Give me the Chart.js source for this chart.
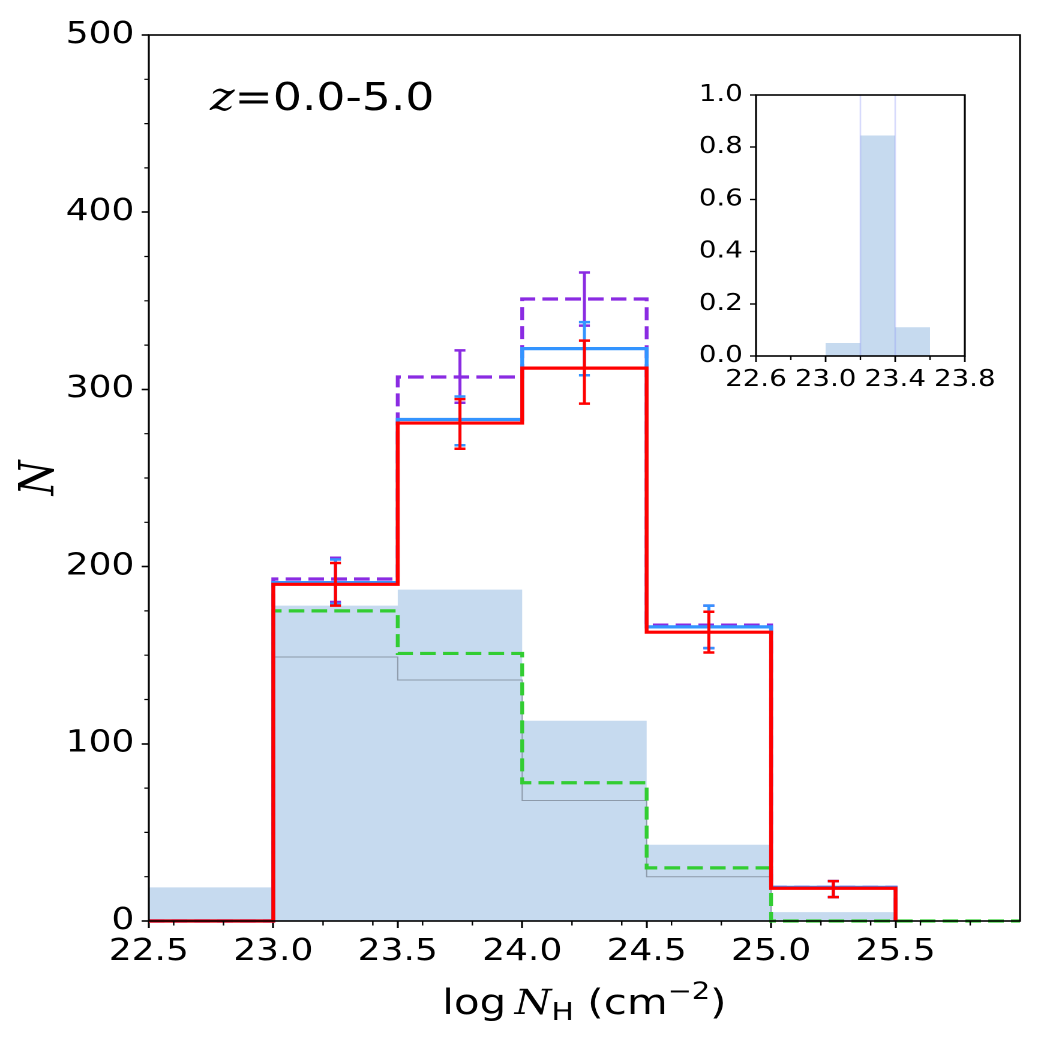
<!DOCTYPE html>
<html>
<head>
<meta charset="utf-8">
<script src="https://cdn.jsdelivr.net/npm/chart.js@4.4.1/dist/chart.umd.min.js"></script>
<style>
html, body { margin: 0; padding: 0; background: #fff; }
#wrap { position: relative; width: 1050px; height: 1050px; overflow: hidden; }
.layer { position: absolute; left: 0; top: 0; width: 875px; height: 1050px; transform: scaleX(1.2); transform-origin: 0 0; }
</style>
</head>
<body>
<div id="wrap">
  <div class="layer"><canvas id="main"></canvas></div>
  <div class="layer"><canvas id="inset"></canvas></div>
</div>
<script>
// bins in log NH
var binEdges = [22.5, 23.0, 23.5, 24.0, 24.5, 25.0, 25.5, 26.0];
var sampleCounts = [19, 178, 187, 113, 43, 5, 0];
var greyCounts = [null, 149, 136, 68, 25, null, null];
var greenCounts = [null, 175, 151, 78, 30, 0, 0];
var purpleCounts = [0, 193, 307, 351, 167, 19, null];
var blueCounts = [0, 191, 283, 323, 166, 19, null];
var redCounts = [0, 190, 281, 312, 163, 18.5, null];

// error bars at bin centres
var errCenters = [23.25, 23.75, 24.25, 24.75, 25.25];
var purpleLow = [180, 292.5, 336, 154, 13.5];
var purpleHigh = [205, 322, 366, 178, 22.5];
var blueLow = [179, 268.5, 308, 154, 13.5];
var blueHigh = [204, 296, 338, 178, 22.5];
var redLow = [178, 266.5, 292, 151.5, 13.5];
var redHigh = [202, 294.5, 327.5, 174.5, 22.5];

var xMajorTicks = [22.5, 23.0, 23.5, 24.0, 24.5, 25.0, 25.5];
var xMinorTicks = [22.6, 22.8, 23.2, 23.4, 23.6, 23.8, 24.2, 24.4, 24.6, 24.8, 25.2, 25.4, 25.6, 25.8];
var yMajorTicks = [0, 100, 200, 300, 400, 500];
var yMinorTicks = [25, 50, 75, 125, 150, 175, 225, 250, 275, 325, 350, 375, 425, 450, 475];

// inset
var insetEdges = [23.0, 23.2, 23.4, 23.6];
var insetFractions = [0.05, 0.845, 0.11];
var insetMarkers = [23.2, 23.4];
var insetXTicks = [22.6, 23.0, 23.4, 23.8];
var insetXMinor = [22.8, 23.2, 23.6];
var insetYTicks = [0, 0.2, 0.4, 0.6, 0.8, 1.0];

function stepPoints(edges, vals) {
    var first = -1, last = -1;
    vals.forEach(function (v, i) {
        if (v !== null) { if (first < 0) first = i; last = i; }
    });
    var pts = [{x: edges[first], y: 0}];
    for (var i = first; i <= last; i++) pts.push({x: edges[i], y: vals[i]});
    pts.push({x: edges[last + 1], y: 0});
    return pts;
}

function errorSegments(xs, lo, hi, cap) {
    var pts = [];
    xs.forEach(function (x, i) {
        pts.push({x: x, y: lo[i]}, {x: x, y: hi[i]}, {x: x, y: null});
        pts.push({x: x - cap, y: lo[i]}, {x: x + cap, y: lo[i]}, {x: x, y: null});
        pts.push({x: x - cap, y: hi[i]}, {x: x + cap, y: hi[i]}, {x: x, y: null});
    });
    return pts;
}

function stepLine(pts, color, width, dash, order) {
    return {
        data: pts, borderColor: color, borderWidth: width, borderDash: dash || [],
        stepped: 'before', pointRadius: 0, fill: false, order: order, clip: 4
    };
}

function errLine(pts, color, order) {
    return {
        data: pts, borderColor: color, borderWidth: 2.5, pointRadius: 0,
        fill: false, spanGaps: false, order: order
    };
}

function drawMinor(ctx, chart, xs, ys, len) {
    var a = chart.chartArea, sx = chart.scales.x, sy = chart.scales.y;
    ctx.save();
    ctx.strokeStyle = '#000';
    ctx.lineWidth = 1.2;
    ctx.beginPath();
    xs.forEach(function (v) {
        var px = sx.getPixelForValue(v);
        ctx.moveTo(px, a.bottom); ctx.lineTo(px, a.bottom + len);
    });
    ys.forEach(function (v) {
        var py = sy.getPixelForValue(v);
        ctx.moveTo(a.left, py); ctx.lineTo(a.left - len / 1.2, py);
    });
    ctx.stroke();
    ctx.restore();
}

function drawFrame(ctx, a) {
    ctx.save();
    ctx.strokeStyle = '#000';
    ctx.lineWidth = 1.6;
    ctx.strokeRect(a.left, a.top, a.right - a.left, a.bottom - a.top);
    ctx.restore();
}

function drawParts(ctx, parts, cx, baseline) {
    var total = 0;
    parts.forEach(function (p) { ctx.font = p.f; p.w = ctx.measureText(p.t).width; total += p.w; });
    var x = cx - total / 2;
    parts.forEach(function (p) {
        ctx.font = p.f;
        ctx.fillText(p.t, x, baseline + p.dy);
        x += p.w;
    });
}

var mainDecor = {
    id: 'mainDecor',
    afterDraw: function (chart) {
        var ctx = chart.ctx, a = chart.chartArea;
        drawFrame(ctx, a);
        drawMinor(ctx, chart, xMinorTicks, yMinorTicks, 4.5);
        ctx.save();
        ctx.fillStyle = '#000';
        ctx.textAlign = 'left';
        ctx.textBaseline = 'alphabetic';
        // redshift label
        ctx.font = 'italic 39px "DejaVu Serif"';
        ctx.fillText('z', 175, 110);
        var zw = ctx.measureText('z').width;
        ctx.font = '38px "DejaVu Sans"';
        ctx.fillText('=0.0-5.0', 175 + zw, 110);
        // x title
        drawParts(ctx, [
            {t: 'log', f: '35px "DejaVu Sans"', dy: 0},
            {t: '\u2009', f: '35px "DejaVu Sans"', dy: 0},
            {t: 'N', f: 'italic 35px "DejaVu Serif"', dy: 0},
            {t: 'H', f: '25px "DejaVu Sans"', dy: 6},
            {t: ' (cm', f: '35px "DejaVu Sans"', dy: 0},
            {t: '\u22122', f: '24px "DejaVu Sans"', dy: -15},
            {t: ')', f: '35px "DejaVu Sans"', dy: 0}
        ], (a.left + a.right) / 2, 1014);
        // y title
        ctx.translate(34, (a.top + a.bottom) / 2);
        ctx.rotate(-Math.PI / 2);
        ctx.textAlign = 'center';
        ctx.textBaseline = 'middle';
        ctx.font = 'italic 40px "DejaVu Serif"';
        ctx.fillText('N', 0, 0);
        ctx.restore();
    }
};

var tickFont = {family: 'DejaVu Sans', size: 30};

new Chart(document.getElementById('main'), {
    type: 'line',
    data: {
        datasets: [
            {
                data: stepPoints(binEdges, sampleCounts), stepped: 'before', pointRadius: 0,
                borderWidth: 0, borderColor: 'rgba(0,0,0,0)', backgroundColor: '#c6daef',
                fill: 'origin', order: 20
            },
            stepLine(stepPoints(binEdges, greyCounts), '#8d9aaa', 1, null, 19),
            stepLine(stepPoints(binEdges, greenCounts), '#32cd32', 3.2, [13, 6], 18),
            stepLine(stepPoints(binEdges, purpleCounts), '#8a2be2', 3.2, [13, 6], 17),
            stepLine(stepPoints(binEdges, blueCounts), '#3394ff', 3.2, null, 16),
            errLine(errorSegments(errCenters, purpleLow, purpleHigh, 0.022), '#8a2be2', 15),
            errLine(errorSegments(errCenters, blueLow, blueHigh, 0.022), '#3394ff', 14),
            stepLine(stepPoints(binEdges, redCounts), '#ff0000', 3.2, null, 13),
            errLine(errorSegments(errCenters, redLow, redHigh, 0.022), '#ff0000', 12)
        ]
    },
    options: {
        responsive: true,
        maintainAspectRatio: false,
        devicePixelRatio: 2,
        animation: false,
        layout: {padding: {left: 0, right: 25, top: 35, bottom: 0}},
        plugins: {legend: {display: false}, tooltip: {enabled: false}},
        scales: {
            x: {
                type: 'linear', min: 22.5, max: 26.0,
                afterBuildTicks: function (scale) {
                    scale.ticks = xMajorTicks.map(function (v) { return {value: v}; });
                },
                afterFit: function (scale) { scale.height = 129; },
                grid: {drawOnChartArea: false, drawTicks: true, tickLength: 7, tickWidth: 1.6, tickColor: '#000'},
                border: {display: false},
                ticks: {
                    autoSkip: false, maxRotation: 0, minRotation: 0, color: '#000', font: tickFont, padding: 6,
                    callback: function (v) { return v.toFixed(1); }
                }
            },
            y: {
                type: 'linear', min: 0, max: 500,
                afterBuildTicks: function (scale) {
                    scale.ticks = yMajorTicks.map(function (v) { return {value: v}; });
                },
                afterFit: function (scale) { scale.width = 124; },
                grid: {drawOnChartArea: false, drawTicks: true, tickLength: 6, tickWidth: 1.6, tickColor: '#000'},
                border: {display: false},
                ticks: {color: '#000', font: tickFont, padding: 6}
            }
        }
    },
    plugins: [mainDecor]
});

var insetDecor = {
    id: 'insetDecor',
    beforeDatasetsDraw: function (chart) {
        var a = chart.chartArea, ctx = chart.ctx;
        ctx.save();
        ctx.fillStyle = '#fff';
        ctx.fillRect(a.left, a.top, a.right - a.left, a.bottom - a.top);
        ctx.restore();
    },
    afterDraw: function (chart) {
        drawFrame(chart.ctx, chart.chartArea);
        drawMinor(chart.ctx, chart, insetXMinor, [], 4);
    }
};

var insetDatasets = [{
    data: stepPoints(insetEdges, insetFractions), stepped: 'before', pointRadius: 0,
    borderWidth: 0, borderColor: 'rgba(0,0,0,0)', backgroundColor: '#c6daef',
    fill: 'origin', order: 5
}];
insetMarkers.forEach(function (m) {
    insetDatasets.push({
        data: [{x: m, y: 0}, {x: m, y: 1}], borderColor: 'rgba(140,150,245,0.35)',
        borderWidth: 1.3, pointRadius: 0, fill: false, order: 1
    });
});

new Chart(document.getElementById('inset'), {
    type: 'line',
    data: {datasets: insetDatasets},
    options: {
        responsive: true,
        maintainAspectRatio: false,
        devicePixelRatio: 2,
        animation: false,
        layout: {padding: {left: 560, right: 71, top: 95, bottom: 644}},
        plugins: {legend: {display: false}, tooltip: {enabled: false}},
        scales: {
            x: {
                type: 'linear', min: 22.6, max: 23.8,
                afterBuildTicks: function (scale) {
                    scale.ticks = insetXTicks.map(function (v) { return {value: v}; });
                },
                afterFit: function (scale) { scale.height = 50; },
                grid: {drawOnChartArea: false, drawTicks: true, tickLength: 6, tickWidth: 1.4, tickColor: '#000'},
                border: {display: false},
                ticks: {
                    autoSkip: false, maxRotation: 0, minRotation: 0, color: '#000',
                    font: {family: 'DejaVu Sans', size: 23}, padding: 4,
                    callback: function (v) { return v.toFixed(1); }
                }
            },
            y: {
                type: 'linear', min: 0, max: 1,
                afterBuildTicks: function (scale) {
                    scale.ticks = insetYTicks.map(function (v) { return {value: v}; });
                },
                afterFit: function (scale) { scale.width = 70; },
                grid: {drawOnChartArea: false, drawTicks: true, tickLength: 5, tickWidth: 1.4, tickColor: '#000'},
                border: {display: false},
                ticks: {
                    color: '#000', font: {family: 'DejaVu Sans', size: 23}, padding: 6,
                    callback: function (v) { return v.toFixed(1); }
                }
            }
        }
    },
    plugins: [insetDecor]
});
</script>
</body>
</html>
